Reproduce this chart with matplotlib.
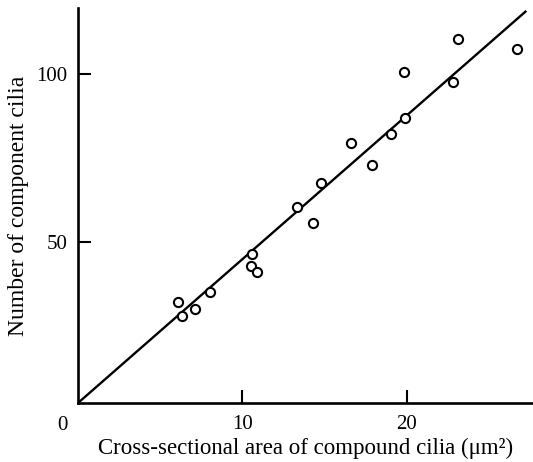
import numpy as np
import matplotlib
matplotlib.use('Agg')
import matplotlib.pyplot as plt

# 데이터
area = [6.1, 6.3, 7.1, 8.0, 10.6, 10.5, 10.9, 13.3, 14.3, 14.8,
        16.6, 17.9, 19.0, 19.8, 19.9, 22.8, 23.1, 26.7]
cilia = [32, 28, 30, 35, 46.5, 43, 41, 60.5, 55.5, 67.5,
         79.5, 73, 82, 100.5, 87, 97.5, 110.5, 107.5]
fit_x = np.array([0, 27.2])
slope = 4.28
intercept = 2.1

plt.rcParams['font.family'] = ['Liberation Serif', 'DejaVu Serif']

fig = plt.figure(figsize=(5.33, 4.62), dpi=100)
ax = fig.add_axes([0.1463, 0.1277, 0.8537, 0.855])

ax.plot(fit_x, slope * fit_x + intercept, color='black', lw=1.7)
ax.plot(area, cilia, 'o', mfc='white', mec='black', ms=6.6, mew=1.5)

ax.set_xlim(0, 27.66)
ax.set_ylim(2.1, 119.6)
ax.spines['top'].set_visible(False)
ax.spines['right'].set_visible(False)
ax.spines['left'].set_linewidth(1.9)
ax.spines['bottom'].set_linewidth(1.9)

ax.set_xticks([10, 20])
ax.set_yticks([50, 100])
ax.tick_params(direction='in', length=9.5, width=1.5, labelsize=15)
ax.tick_params(axis='y', pad=7.5)
ax.tick_params(axis='x', pad=8.5)
# 원점의 '0' 라벨
ax.annotate('0', xy=(0, 2.1), xytext=(-11, -9.4), textcoords='offset points',
            fontsize=15, ha='center', va='top', annotation_clip=False)

ax.set_xlabel('Cross-sectional area of compound cilia (μm²)', fontsize=16.5, labelpad=3)
ax.set_ylabel('Number of component cilia', fontsize=17, labelpad=5)

plt.savefig('out.png', dpi=100)
